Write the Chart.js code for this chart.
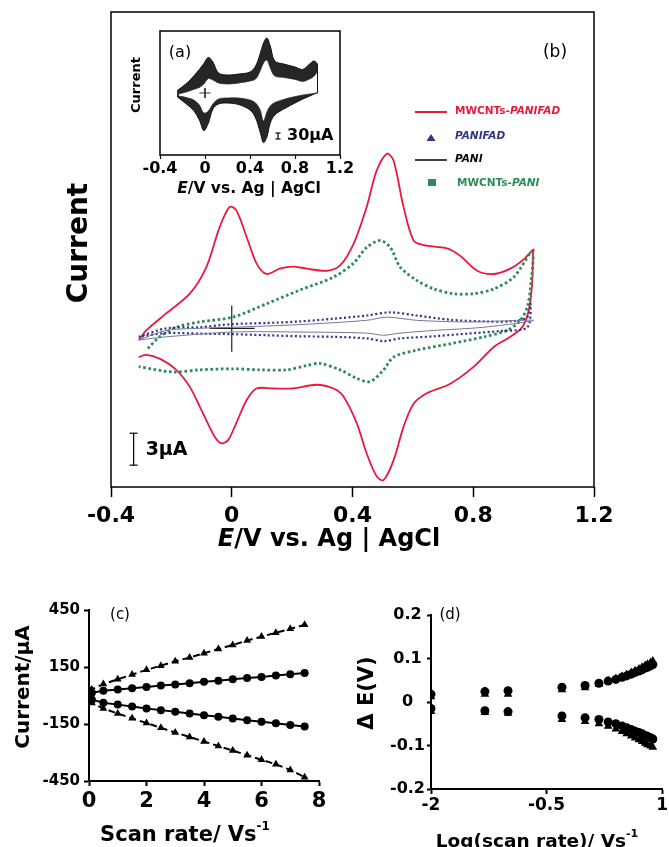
<!DOCTYPE html>
<html>
<head>
<meta charset="utf-8">
<script src="https://cdn.jsdelivr.net/npm/chart.js@4.4.1/dist/chart.umd.min.js"></script>
<style>
  body { margin: 0; background: #fff; }
  #wrap { position: relative; width: 669px; height: 847px; overflow: hidden; background: #fff; }
  canvas { position: absolute; }
</style>
</head>
<body>
<div id="wrap">
  <canvas id="cvB" width="669" height="580" style="left:0;top:0"></canvas>
  <canvas id="cvA" width="669" height="230" style="left:0;top:0"></canvas>
  <canvas id="cvC" width="340" height="257" style="left:0;top:590px"></canvas>
  <canvas id="cvD" width="329" height="257" style="left:340px;top:590px"></canvas>
</div>
<script>
// ---- (b) main CVs: potential (V) and current (uA) along each scan loop ----
const redE = [-0.308, -0.283, -0.217, -0.139, -0.084, -0.04, -0.007, 0.015, 0.049, 0.082, 0.115, 0.159, 0.204, 0.248, 0.314, 0.359, 0.403, 0.447, 0.48, 0.514, 0.536, 0.569, 0.602, 0.635, 0.713, 0.757, 0.813, 0.868, 0.923, 0.968, 0.999,
  0.998, 0.995, 0.984, 0.962, 0.923, 0.868, 0.802, 0.724, 0.646, 0.602, 0.569, 0.536, 0.503, 0.48, 0.447, 0.414, 0.37, 0.337, 0.281, 0.204, 0.137, 0.082, 0.049, 0.015, -0.012, -0.034, -0.056, -0.095, -0.139, -0.184, -0.239, -0.283, -0.308];
const redI = [-1.1, -0.2, 1.4, 3.25, 5.75, 9.5, 11.4, 11.1, 8.6, 6.1, 5.1, 5.6, 5.8, 5.6, 5.4, 5.9, 7.9, 11.4, 14.8, 16.4, 15.75, 11.4, 8.25, 7.8, 7.5, 6.8, 5.4, 5.1, 5.6, 6.5, 7.4,
  7.0, 4.2, 1.7, 0.1, -0.8, -1.75, -3.6, -5.2, -6.1, -7.1, -9.25, -12.4, -14.25, -13.9, -11.75, -8.9, -6.4, -5.65, -5.3, -5.65, -5.65, -5.65, -6.75, -8.9, -10.5, -10.8, -10.2, -8.0, -5.5, -3.9, -2.85, -2.5, -2.7];

const greenE = [-0.278, -0.239, -0.184, -0.106, 0.004, 0.115, 0.226, 0.337, 0.403, 0.447, 0.492, 0.525, 0.558, 0.613, 0.669, 0.735, 0.802, 0.868, 0.934, 0.995,
  0.99, 0.979, 0.956, 0.912, 0.835, 0.724, 0.613, 0.536, 0.503, 0.458, 0.414, 0.359, 0.292, 0.248, 0.182, 0.093, 0.004, -0.106, -0.195, -0.308];
const greenI = [-1.9, -0.8, 0.1, 0.6, 1.05, 2.3, 3.6, 4.8, 6.1, 7.6, 8.25, 7.6, 5.75, 4.5, 3.7, 3.25, 3.25, 3.7, 4.8, 7.15,
  3.9, 2.0, 0.75, -0.2, -0.8, -1.45, -2.05, -2.7, -3.9, -5.0, -4.7, -3.9, -3.3, -3.5, -3.9, -3.9, -3.8, -3.9, -4.1, -3.6];

const blueE = [-0.308, -0.217, -0.106, 0.004, 0.115, 0.226, 0.337, 0.447, 0.525, 0.613, 0.724, 0.835, 0.923, 0.979, 0.99,
  0.979, 0.89, 0.78, 0.669, 0.558, 0.503, 0.447, 0.337, 0.226, 0.115, 0.004, -0.106, -0.217, -0.308];
const blueI = [-0.8, 0, 0.1, 0.4, 0.5, 0.65, 0.9, 1.2, 1.5, 1.2, 0.8, 0.65, 0.65, 1.05, 2.3,
  0.1, -0.25, -0.5, -0.75, -0.95, -1.2, -0.95, -0.8, -0.75, -0.65, -0.55, -0.5, -0.45, -0.8];

const greyE = [-0.308, -0.217, -0.106, 0.004, 0.226, 0.447, 0.514, 0.613, 0.78, 1.0,
  0.835, 0.669, 0.558, 0.503, 0.447, 0.226, 0.004, -0.217, -0.308];
const greyI = [-1.1, -0.2, 0, 0.1, 0.35, 0.75, 1.05, 0.75, 0.6, 0.75,
  0.1, -0.2, -0.45, -0.65, -0.45, -0.35, -0.35, -0.8, -1.1];

const mainTicks = [-0.4, 0, 0.4, 0.8, 1.2];
const mainCross = { e: [-0.073, 0.076], i: [2.15, -2.2] };
const mainBar = { e: -0.325, i: [-9.85, -12.85] };   // 3 uA

// ---- (a) inset: envelopes of the repeated cycles ----
const insetE = [-0.24, -0.2, -0.15, -0.1, -0.05, -0.01, 0.03, 0.07, 0.12, 0.2, 0.3, 0.4, 0.45, 0.49, 0.52, 0.55, 0.58, 0.62, 0.7, 0.8, 0.87, 0.93, 0.97, 1.0];
const insetUpOuter = [15, 32, 55, 85, 118, 148, 178, 155, 100, 90, 95, 105, 135, 195, 250, 275, 235, 160, 145, 130, 118, 145, 160, 145];
const insetUpInner = [-5, 0, 8, 18, 28, 45, 72, 65, 50, 45, 50, 60, 70, 110, 150, 165, 125, 85, 78, 68, 58, 70, 85, 108];
const insetLoOuter = [-22, -40, -62, -88, -135, -188, -150, -80, -55, -50, -58, -85, -125, -195, -248, -220, -150, -110, -80, -50, -30, -15, -5, 0];
const insetLoInner = [-15, -18, -25, -35, -60, -100, -90, -55, -30, -25, -25, -35, -50, -85, -140, -95, -65, -48, -32, -18, -10, -5, -2, 0];
const insetCross = { e: [-0.05, 0.05], i: [25, -25] };
const insetBar = { e: 0.649, i: [-200, -230] };   // 30 uA

// ---- (c) peak current vs scan rate ----
const scanRate = [0.01, 0.05, 0.1, 0.5, 1, 1.5, 2, 2.5, 3, 3.5, 4, 4.5, 5, 5.5, 6, 6.5, 7, 7.5];
const ipaFad = [20, 25, 32, 60, 85, 110, 135, 157, 180, 200, 222, 245, 266, 289, 310, 330, 351, 372];
const ipaPani = [8, 12, 15, 25, 32, 38, 45, 52, 58, 65, 72, 78, 85, 92, 98, 105, 112, 118];
const ipcPani = [-15, -18, -22, -38, -48, -58, -68, -77, -86, -95, -104, -112, -121, -130, -138, -146, -155, -163];
const ipcFad = [-25, -32, -40, -68, -95, -120, -145, -170, -195, -218, -242, -266, -290, -314, -338, -362, -392, -430];

// ---- (d) peak shift vs log(scan rate) ----
const logRate = [-2, -1.3, -1, -0.3, 0, 0.18, 0.3, 0.4, 0.48, 0.54, 0.6, 0.65, 0.7, 0.74, 0.78, 0.81, 0.85, 0.88];
const dEaTri = [0.012, 0.018, 0.018, 0.028, 0.033, 0.041, 0.048, 0.054, 0.059, 0.063, 0.068, 0.072, 0.076, 0.080, 0.084, 0.087, 0.091, 0.094];
const dEaCirc = [0.018, 0.024, 0.026, 0.034, 0.038, 0.043, 0.048, 0.052, 0.057, 0.060, 0.064, 0.068, 0.071, 0.074, 0.078, 0.080, 0.083, 0.086];
const dEcTri = [-0.022, -0.024, -0.026, -0.040, -0.045, -0.050, -0.056, -0.062, -0.068, -0.073, -0.078, -0.083, -0.087, -0.091, -0.095, -0.098, -0.101, -0.104];
const dEcCirc = [-0.015, -0.020, -0.022, -0.032, -0.036, -0.040, -0.046, -0.050, -0.055, -0.059, -0.063, -0.067, -0.070, -0.073, -0.077, -0.079, -0.082, -0.085];

const FAM = "'DejaVu Sans', sans-serif";
const RED = "#e8193c", GREEN = "#2e8b57", NAVY = "#33338a", GREY = "#77779a";

function pts(xs, ys) {
  return xs.map((x, i) => ({ x: x, y: ys[i] }));
}

function drawParts(ctx, parts, x, y, align) {
  let total = 0;
  parts.forEach(p => { ctx.font = p[1]; total += ctx.measureText(p[0]).width; });
  let cx = align === "center" ? x - total / 2 : x;
  ctx.textAlign = "left";
  ctx.textBaseline = "middle";
  parts.forEach(p => {
    ctx.font = p[1];
    ctx.fillText(p[0], cx, y + (p[2] || 0));
    cx += ctx.measureText(p[0]).width;
  });
}

function drawRotated(ctx, text, font, x, y) {
  ctx.save();
  ctx.translate(x, y);
  ctx.rotate(-Math.PI / 2);
  ctx.font = font;
  ctx.textAlign = "center";
  ctx.textBaseline = "middle";
  ctx.fillText(text, 0, 0);
  ctx.restore();
}

const boxPlugin = {
  id: "box",
  afterDraw(chart, args, opts) {
    const a = chart.chartArea, ctx = chart.ctx;
    ctx.save();
    ctx.strokeStyle = "#000";
    ctx.lineWidth = opts.width || 1.5;
    ctx.strokeRect(a.left, a.top, a.right - a.left, a.bottom - a.top);
    ctx.restore();
  }
};

function lineSet(data, color, width, extra) {
  return Object.assign({
    data: data, borderColor: color, borderWidth: width, pointRadius: 0,
    fill: false, tension: 0.3
  }, extra || {});
}

function tickFont(size) {
  return { family: FAM, size: size, weight: "bold" };
}

// ================= (b) main chart =================
const mainText = {
  id: "mainText",
  afterDraw(chart) {
    const ctx = chart.ctx, xs = chart.scales.x, ys = chart.scales.y;
    ctx.save();
    ctx.fillStyle = "#000";
    drawRotated(ctx, "Current", "bold 28px " + FAM, 80, 243);
    drawParts(ctx, [["E", "italic bold 24px " + FAM], ["/V vs. Ag | AgCl", "bold 24px " + FAM]], 329, 540, "center");
    drawParts(ctx, [["(b)", "17px " + FAM]], 555, 53, "center");
    const bx = xs.getPixelForValue(mainBar.e);
    const by = (ys.getPixelForValue(mainBar.i[0]) + ys.getPixelForValue(mainBar.i[1])) / 2;
    drawParts(ctx, [["3μA", "bold 19px " + FAM]], bx + 12, by + 1, "left");

    // legend
    const lx = 415, tx = 455;
    ctx.lineWidth = 2; ctx.strokeStyle = RED;
    ctx.beginPath(); ctx.moveTo(lx, 112); ctx.lineTo(lx + 32, 112); ctx.stroke();
    ctx.fillStyle = RED;
    drawParts(ctx, [["MWCNTs-", "bold 10.5px " + FAM], ["PANIFAD", "italic bold 10.5px " + FAM]], tx, 111, "left");
    ctx.fillStyle = NAVY;
    ctx.beginPath(); ctx.moveTo(431, 134); ctx.lineTo(435.5, 141); ctx.lineTo(426.5, 141); ctx.closePath(); ctx.fill();
    drawParts(ctx, [["PANIFAD", "italic bold 10.5px " + FAM]], tx, 136, "left");
    ctx.lineWidth = 1.5; ctx.strokeStyle = "#000";
    ctx.beginPath(); ctx.moveTo(lx, 160); ctx.lineTo(lx + 32, 160); ctx.stroke();
    ctx.fillStyle = "#000";
    drawParts(ctx, [["PANI", "italic bold 10.5px " + FAM]], tx, 159, "left");
    ctx.fillStyle = GREEN;
    ctx.fillRect(428, 179, 8, 7);
    drawParts(ctx, [["MWCNTs-", "bold 10.5px " + FAM], ["PANI", "italic bold 10.5px " + FAM]], tx + 2, 183, "left");
    ctx.restore();
  }
};

new Chart(document.getElementById("cvB"), {
  type: "line",
  data: {
    datasets: [
      lineSet(pts(greyE, greyI), GREY, 1),
      lineSet(pts(blueE, blueI), NAVY, 2.2, { borderDash: [2, 2.5] }),
      lineSet(pts(greenE, greenI), GREEN, 2.8, { borderDash: [2.6, 2.6] }),
      lineSet(pts(redE, redI), RED, 1.8),
      lineSet(pts(mainCross.e, [0, 0]), "#222", 1.2, { tension: 0 }),
      lineSet(pts([0, 0], mainCross.i), "#222", 1.2, { tension: 0 }),
      lineSet(pts([mainBar.e, mainBar.e], mainBar.i), "#000", 1.2,
        { tension: 0, pointRadius: 4, pointStyle: "line", pointBorderColor: "#000", pointBorderWidth: 1.2 })
    ]
  },
  options: {
    responsive: false, animation: false, devicePixelRatio: 1,
    layout: { padding: { left: 111, right: 75, top: 12, bottom: 33 } },
    plugins: { legend: { display: false }, tooltip: { enabled: false }, box: { width: 1.5 } },
    scales: {
      x: {
        type: "linear", min: -0.4, max: 1.2,
        afterBuildTicks: s => { s.ticks = mainTicks.map(v => ({ value: v })); },
        afterFit: s => { s.height = 60; },
        ticks: { font: tickFont(22), color: "#000", padding: 6 },
        grid: { drawOnChartArea: false, tickLength: 10, tickColor: "#000", tickWidth: 1.5 },
        border: { display: false }
      },
      y: { type: "linear", display: false, min: -14.9, max: 29.7 }
    }
  },
  plugins: [boxPlugin, mainText]
});

// ================= (a) inset =================
const insetText = {
  id: "insetText",
  afterDraw(chart) {
    const ctx = chart.ctx, xs = chart.scales.x, ys = chart.scales.y;
    ctx.save();
    ctx.fillStyle = "#000";
    drawRotated(ctx, "Current", "bold 13px " + FAM, 137, 85);
    drawParts(ctx, [["E", "italic bold 15.5px " + FAM], ["/V vs. Ag | AgCl", "bold 15.5px " + FAM]], 249, 189, "center");
    drawParts(ctx, [["(a)", "16px " + FAM]], 180, 53, "center");
    const bx = xs.getPixelForValue(insetBar.e);
    const by = (ys.getPixelForValue(insetBar.i[0]) + ys.getPixelForValue(insetBar.i[1])) / 2;
    drawParts(ctx, [["30μA", "bold 16px " + FAM]], bx + 9, by, "left");
    ctx.restore();
  }
};

new Chart(document.getElementById("cvA"), {
  type: "line",
  data: {
    datasets: [
      lineSet(pts(insetE, insetUpOuter), "#111", 1, { fill: "+1", backgroundColor: "#262626", tension: 0.35 }),
      lineSet(pts(insetE, insetUpInner), "#444", 0.8, { tension: 0.35 }),
      lineSet(pts(insetE, insetLoOuter), "#111", 1, { fill: "+1", backgroundColor: "#262626", tension: 0.35 }),
      lineSet(pts(insetE, insetLoInner), "#444", 0.8, { tension: 0.35 }),
      lineSet(pts([insetE[0], insetE[0]], [insetUpOuter[0], insetLoOuter[0]]), "#111", 1, { tension: 0 }),
      lineSet(pts([insetE[insetE.length - 1], insetE[insetE.length - 1]],
        [insetUpOuter[insetUpOuter.length - 1], insetLoOuter[insetLoOuter.length - 1]]), "#111", 1, { tension: 0 }),
      lineSet(pts(insetCross.e, [0, 0]), "#333", 1, { tension: 0 }),
      lineSet(pts([0, 0], insetCross.i), "#333", 1, { tension: 0 }),
      lineSet(pts([insetBar.e, insetBar.e], insetBar.i), "#000", 1.2,
        { tension: 0, pointRadius: 2.5, pointStyle: "line", pointBorderColor: "#000", pointBorderWidth: 1.2 })
    ]
  },
  options: {
    responsive: false, animation: false, devicePixelRatio: 1,
    layout: { padding: { left: 160, right: 329, top: 31, bottom: 35 } },
    plugins: { legend: { display: false }, tooltip: { enabled: false }, box: { width: 1.5 } },
    scales: {
      x: {
        type: "linear", min: -0.4, max: 1.2,
        afterBuildTicks: s => { s.ticks = mainTicks.map(v => ({ value: v })); },
        afterFit: s => { s.height = 40; },
        ticks: { font: tickFont(16), color: "#000", padding: 0 },
        grid: { drawOnChartArea: false, tickLength: 4, tickColor: "#000", tickWidth: 1.2 },
        border: { display: false }
      },
      y: { type: "linear", display: false, min: -310, max: 310 }
    }
  },
  plugins: [boxPlugin, insetText]
});

// ================= (c) =================
function markerSet(xs, ys, style, r, line) {
  return {
    data: pts(xs, ys), showLine: true, borderColor: "#000", borderWidth: 2,
    borderDash: line === "dash" ? [7, 4] : [], tension: 0,
    pointStyle: style, pointRadius: r, pointBackgroundColor: "#000", pointBorderColor: "#000", pointBorderWidth: 0
  };
}

const cText = {
  id: "cText",
  afterDraw(chart) {
    const ctx = chart.ctx;
    ctx.save();
    ctx.fillStyle = "#000";
    drawRotated(ctx, "Current/μA", "bold 20px " + FAM, 24, 97);
    drawParts(ctx, [["Scan rate/ Vs", "bold 21px " + FAM], ["-1", "bold 12px " + FAM, -9]], 185, 246, "center");
    drawParts(ctx, [["(c)", "15px " + FAM]], 120, 25, "center");
    ctx.restore();
  }
};

new Chart(document.getElementById("cvC"), {
  type: "scatter",
  data: {
    datasets: [
      markerSet(scanRate, ipaFad, "triangle", 4.5, "dash"),
      markerSet(scanRate, ipaPani, "circle", 4, "solid"),
      markerSet(scanRate, ipcPani, "circle", 4, "solid"),
      markerSet(scanRate, ipcFad, "triangle", 4.5, "dash")
    ]
  },
  options: {
    responsive: false, animation: false, devicePixelRatio: 1,
    layout: { padding: { left: 0, right: 21, top: 20, bottom: 0 } },
    plugins: { legend: { display: false }, tooltip: { enabled: false } },
    scales: {
      x: {
        type: "linear", min: 0, max: 8,
        ticks: { stepSize: 2, font: tickFont(21), color: "#000", padding: 3 },
        afterFit: s => { s.height = 66; },
        grid: { drawOnChartArea: false, tickLength: 5, tickColor: "#000", tickWidth: 2 },
        border: { color: "#000", width: 2 }
      },
      y: {
        type: "linear", min: -450, max: 450,
        ticks: { stepSize: 300, font: tickFont(15), color: "#000", padding: 4 },
        afterFit: s => { s.width = 89; },
        grid: { drawOnChartArea: false, tickLength: 5, tickColor: "#000", tickWidth: 2 },
        border: { color: "#000", width: 2 }
      }
    }
  },
  plugins: [cText]
});

// ================= (d) =================
function dotSet(xs, ys, style, r) {
  return {
    data: pts(xs, ys), showLine: false,
    pointStyle: style, pointRadius: r, pointBackgroundColor: "#000", pointBorderColor: "#000", pointBorderWidth: 0
  };
}

const dText = {
  id: "dText",
  afterDraw(chart) {
    const ctx = chart.ctx;
    ctx.save();
    ctx.fillStyle = "#000";
    drawRotated(ctx, "Δ E(V)", "bold 21px " + FAM, 28, 103);
    drawParts(ctx, [["Log(scan rate)/ Vs", "bold 18.5px " + FAM], ["-1", "bold 11px " + FAM, -8]], 197, 252, "center");
    drawParts(ctx, [["(d)", "15px " + FAM]], 110, 25, "center");
    ctx.restore();
  }
};

new Chart(document.getElementById("cvD"), {
  type: "scatter",
  data: {
    datasets: [
      dotSet(logRate, dEaCirc, "circle", 4.5),
      dotSet(logRate, dEaTri, "triangle", 5),
      dotSet(logRate, dEcCirc, "circle", 4.5),
      dotSet(logRate, dEcTri, "triangle", 5)
    ]
  },
  options: {
    responsive: false, animation: false, devicePixelRatio: 1,
    layout: { padding: { left: 0, right: 6, top: 25, bottom: 0 } },
    plugins: { legend: { display: false }, tooltip: { enabled: false } },
    scales: {
      x: {
        type: "linear", min: -2, max: 1,
        ticks: { stepSize: 1.5, font: tickFont(17), color: "#000", padding: 1 },
        afterFit: s => { s.height = 58; },
        grid: { drawOnChartArea: false, tickLength: 5, tickColor: "#000", tickWidth: 2 },
        border: { color: "#000", width: 2 }
      },
      y: {
        type: "linear", min: -0.2, max: 0.2,
        ticks: { stepSize: 0.1, font: tickFont(16), color: "#000", padding: 2, crossAlign: "center" },
        afterFit: s => { s.width = 91; },
        grid: { drawOnChartArea: false, tickLength: 4, tickColor: "#000", tickWidth: 2 },
        border: { color: "#000", width: 2 }
      }
    }
  },
  plugins: [dText]
});
</script>
</body>
</html>
